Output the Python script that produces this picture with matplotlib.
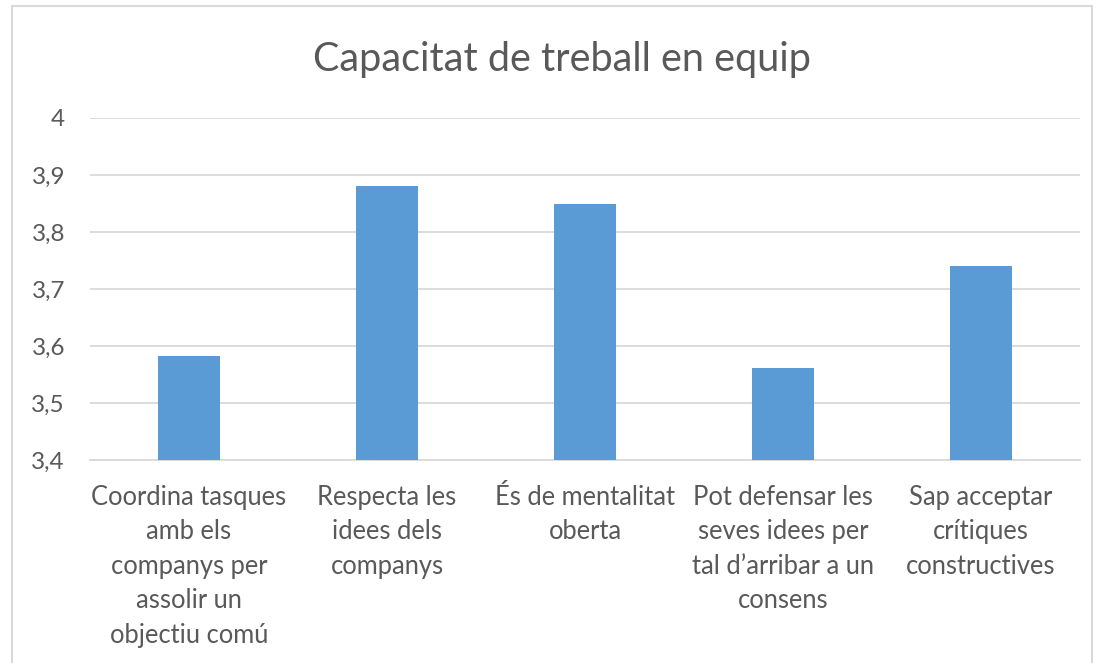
import matplotlib.pyplot as plt
from matplotlib.patches import Rectangle
from matplotlib.ticker import FuncFormatter

TITLE = "Capacitat de treball en equip"
CATEGORIES = [
    "Coordina tasques\namb els\ncompanys per\nassolir un\nobjectiu comú",
    "Respecta les\nidees dels\ncompanys",
    "És de mentalitat\noberta",
    "Pot defensar les\nseves idees per\ntal d\u2019arribar a un\nconsens",
    "Sap acceptar\ncrítiques\nconstructives",
]
VALUES = [3.583, 3.88, 3.85, 3.561, 3.74]
Y_TICKS = [3.4, 3.5, 3.6, 3.7, 3.8, 3.9, 4.0]

BAR_COLOR = "#5B9BD5"
TEXT_COLOR = "#595959"
GRID_COLOR = "#D9D9D9"

plt.rcParams["font.family"] = ["Lato", "DejaVu Sans"]

W, H = 1097, 663
fig = plt.figure(figsize=(W / 100, H / 100), dpi=100)
ax = fig.add_axes([90 / W, 1 - 460 / H, 990 / W, 342 / H])

# outer chart frame, cut off at the bottom like the screenshot
fig.patches.append(Rectangle((12 / W, -0.05), (1092 - 12) / W, 1.05 - 6 / H,
                             transform=fig.transFigure, fill=False,
                             edgecolor="#D9D9D9", linewidth=1.5))

x = range(len(CATEGORIES))
ax.bar(x, VALUES, width=0.31, color=BAR_COLOR, zorder=3)

ax.set_xlim(-0.5, len(CATEGORIES) - 0.5)
ax.set_ylim(3.4, 4.0)
ax.set_yticks(Y_TICKS)
ax.yaxis.set_major_formatter(
    FuncFormatter(lambda v, _: f"{v:g}".replace(".", ",")))
ax.set_xticks(list(x))
ax.set_xticklabels(CATEGORIES, linespacing=1.47)

ax.grid(axis="y", color=GRID_COLOR, linewidth=1.3, zorder=0)
for side in ("top", "right", "left"):
    ax.spines[side].set_visible(False)
ax.spines["bottom"].set_color(GRID_COLOR)
ax.spines["bottom"].set_linewidth(1.3)
ax.tick_params(axis="both", length=0, colors=TEXT_COLOR)
ax.tick_params(axis="y", pad=18, labelsize=17.5)
ax.tick_params(axis="x", pad=18, labelsize=18.4)

fig.text(0.512, 1 - 60 / H, TITLE, ha="center", va="center",
         fontsize=28.5, color=TEXT_COLOR)

fig.savefig("out.png", dpi=100, facecolor="white")
